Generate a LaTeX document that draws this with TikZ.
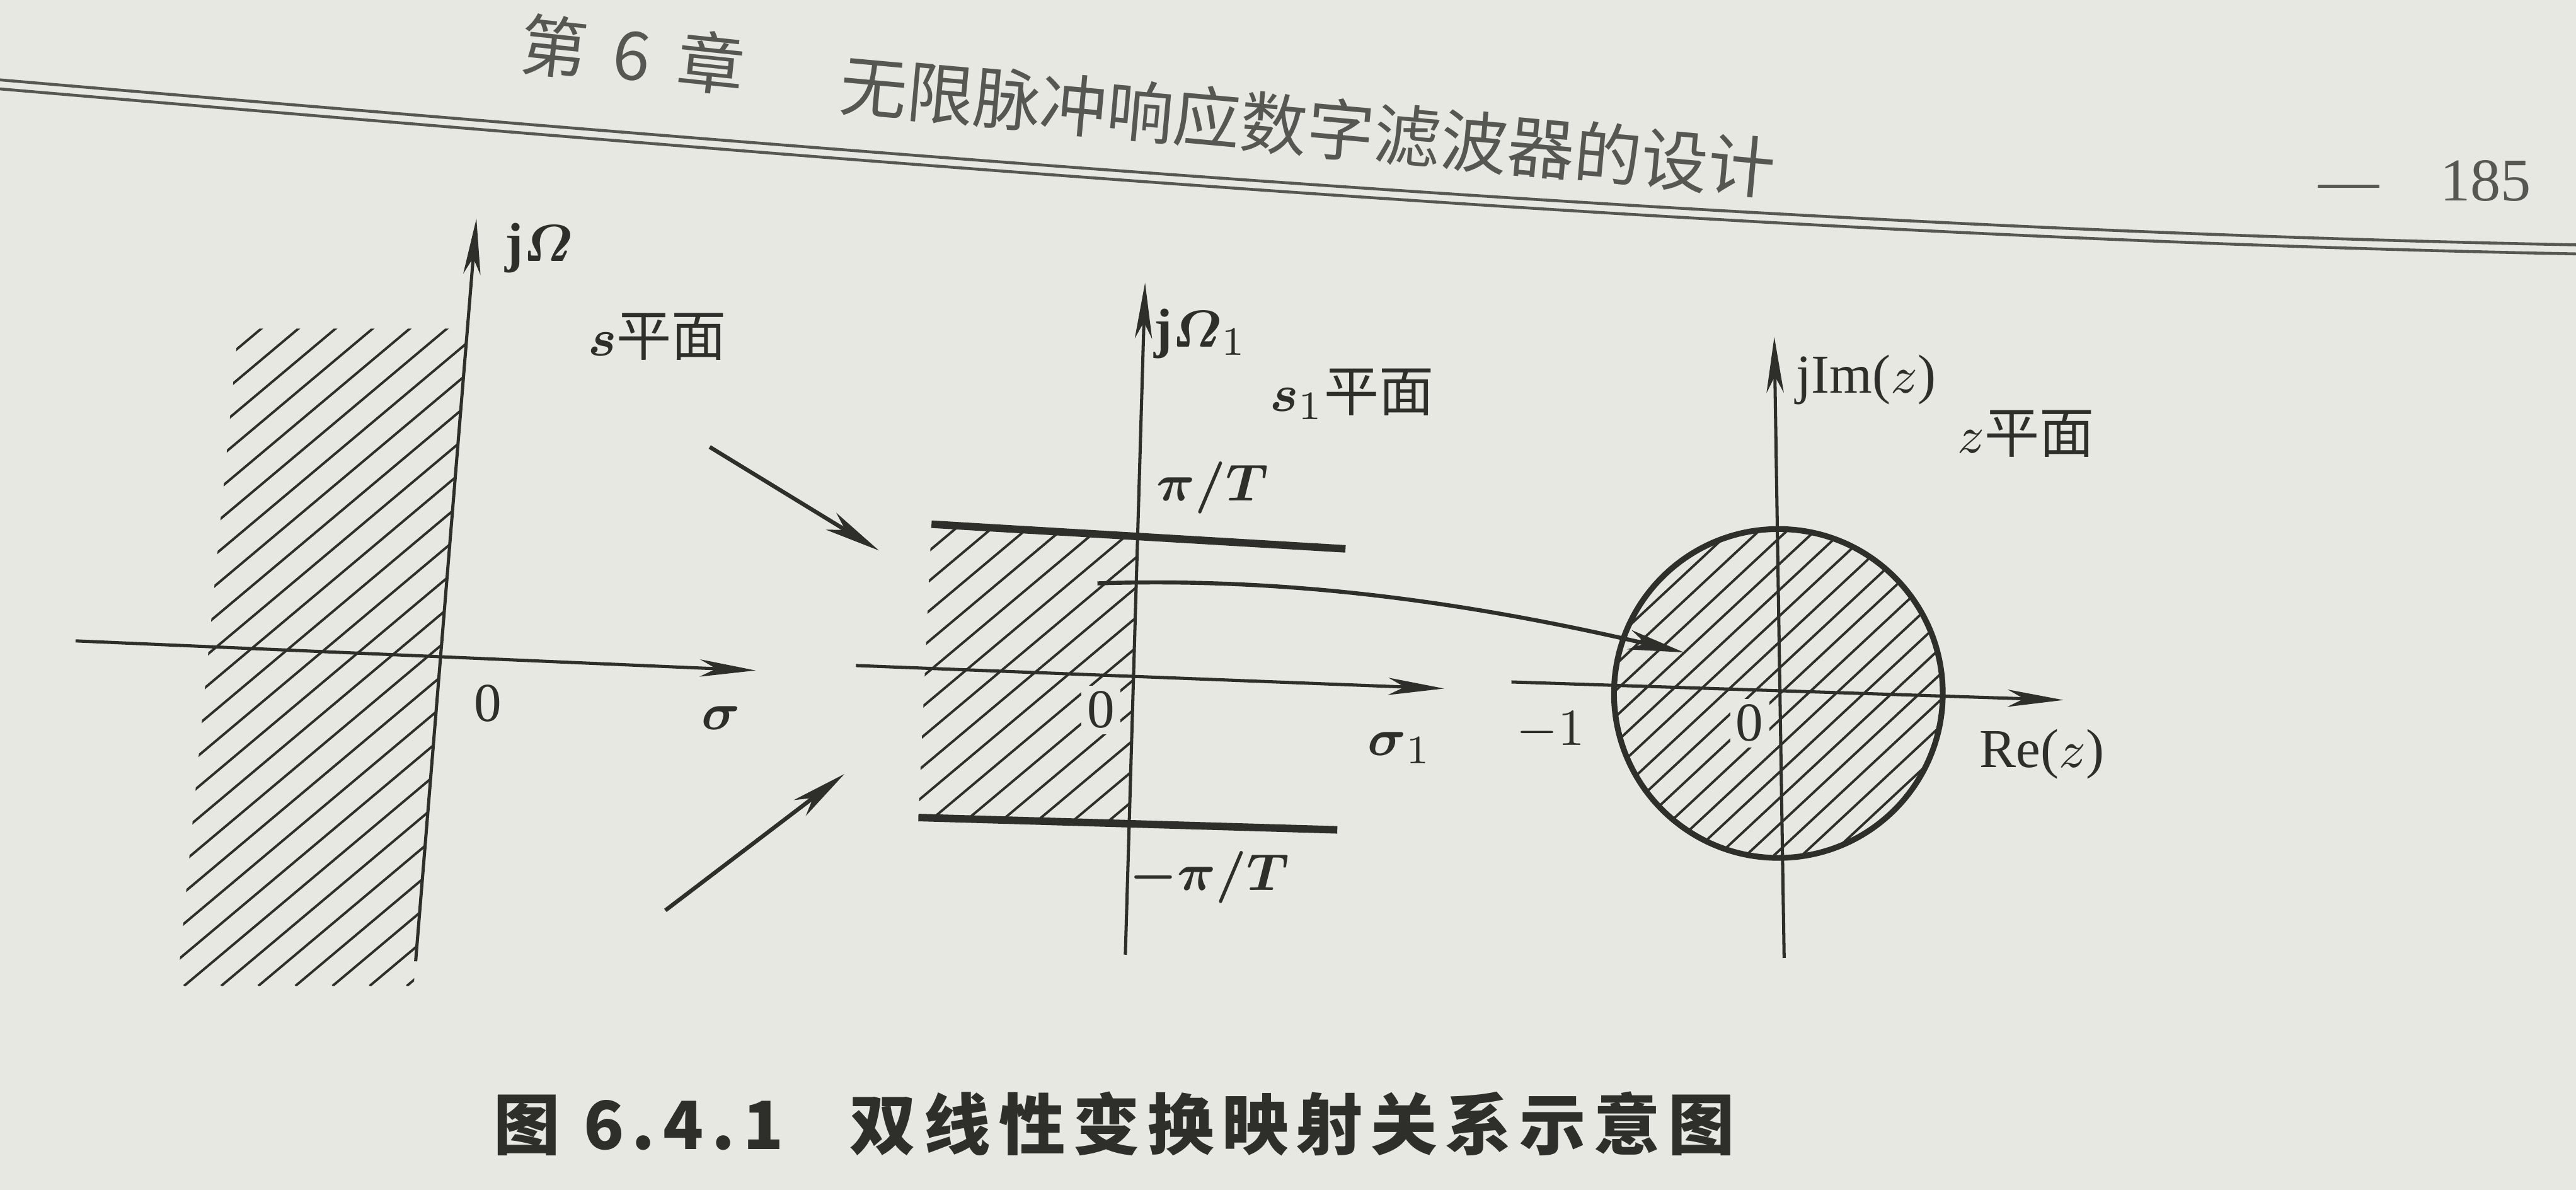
\documentclass[tikz,border=0pt]{standalone}
\usepackage{amsmath}
\usepackage{fontspec}
\setmainfont{Liberation Serif}
\newfontfamily\cjk{Noto Sans CJK SC}
\newfontfamily\capfont[LetterSpace=12]{Noto Sans CJK SC}
\usetikzlibrary{arrows.meta}
\definecolor{paper}{RGB}{232,232,227}
\definecolor{ink}{RGB}{46,46,42}
\definecolor{headink}{RGB}{86,86,82}
\tikzset{%
    axis/.style={draw=ink, line width=.55pt,
        -{Stealth[length=3.4mm,width=1.05mm,inset=1mm]}},
    maparrow/.style={draw=ink, line width=.7pt,
        -{Stealth[length=3.4mm,width=1.2mm,inset=1mm]}},
    hatch/.style={draw=ink, line width=.42pt},
    bound/.style={draw=ink, line width=1.3pt},
    lbl/.style={inner sep=0, text=ink, font=\fontsize{9.5}{11}\selectfont},
    plane/.style={inner sep=0, text=ink, font=\fontsize{9.5}{11}\selectfont\cjk},
    headtxt/.style={inner sep=0, text=headink, font=\fontsize{11.6}{13}\selectfont\cjk},
    captxt/.style={inner sep=0, text=ink, font=\fontsize{11.5}{13}\selectfont\capfont\bfseries}
}

\begin{document}
\begin{tikzpicture}[x=0.01cm, y=-0.01cm]
  \useasboundingbox (0,0) rectangle (1568,724);
  \fill[paper] (0,0) rectangle (1568,724);

  % running head
  \node (chap) [headtxt, rotate=-6] at (385,33) {第\hspace{.4em}6\hspace{.4em}章};
  \node (title) [headtxt, rotate=-5.2] at (796,77) {无限脉冲响应数字滤波器的设计};
  \node (page) [headtxt, font=\fontsize{10.5}{12}\selectfont] at (1476,110) {—\quad 185};
  \draw[headink, line width=.5pt] (0,48.6) .. controls (600,100) and (1100,140) .. (1568,149);
  \draw[headink, line width=.5pt] (0,54.1) .. controls (600,105.5) and (1100,145.5) .. (1568,154.5);

  % s plane
  \coordinate (sL) at (46,390);
  \coordinate (sR) at (460,408);
  \coordinate (sB) at (253,585);
  \coordinate (sT) at (290,133);
  \begin{scope}
    \clip (145,200) -- (284.5,200) -- (251.8,600) -- (108,600) -- cycle;
    \foreach \i in {0,...,26}
      \draw[hatch] (-340+22.6*\i,600) -- ++(480,-403);
  \end{scope}
  \draw[axis] (sL) -- (sR);
  \draw[axis] (sB) -- (sT);

  % s1 plane
  \coordinate (s1L) at (521,405);
  \coordinate (s1R) at (879,419);
  \coordinate (s1B) at (685,581);
  \coordinate (s1T) at (697,172);
  \coordinate (up1) at (567,319);
  \coordinate (up2) at (819,334);
  \coordinate (lo1) at (559,497.5);
  \coordinate (lo2) at (814,505);
  \begin{scope}
    \clip (up1) -- (692.5,326.4) -- (687,501) -- (lo1) -- cycle;
    \foreach \i in {0,...,16}
      \draw[hatch] (345+21.8*\i,502) -- ++(230,-193);
  \end{scope}
  \draw[bound] (up1) -- (up2);
  \draw[bound] (lo1) -- (lo2);
  \draw[axis] (s1L) -- (s1R);
  \draw[axis] (s1B) -- (s1T);

  % z plane
  \node (zdisk) [circle, draw=ink, line width=1pt, minimum size=2cm, inner sep=0] at (1082.5,422) {};
  \begin{scope}
    \clip (zdisk.center) circle [radius=1cm];
    \foreach \i in {0,...,26}
      \draw[hatch] (752+17*\i,525) -- ++(235,-219);
  \end{scope}
  \coordinate (zL) at (920,415);
  \coordinate (zR) at (1256,426);
  \coordinate (zB) at (1086,583);
  \coordinate (zT) at (1080,205);
  \draw[axis] (zL) -- (zR);
  \draw[axis] (zB) -- (zT);

  % mapping arrows
  \coordinate (a1S) at (432,272);
  \coordinate (a1E) at (535,335);
  \coordinate (a2S) at (405,554);
  \coordinate (a2E) at (514,471);
  \coordinate (mapS) at (668,355);
  \coordinate (mapE) at (1025,397);
  \draw[maparrow] (a1S) -- (a1E);
  \draw[maparrow] (a2S) -- (a2E);
  \draw[maparrow] (mapS) .. controls (790,351) and (900,368) .. (mapE);

  % labels
  \node (jw) [lbl] at (328,151) {$\mathbf{j}\boldsymbol{\varOmega}$};
  \node (splane) [plane] at (400,205) {$\boldsymbol{s}$平面};
  \node (o1) [lbl] at (297,428) {0};
  \node (sig) [lbl] at (439,437) {$\boldsymbol{\sigma}$};
  \node (jw1) [lbl] at (731,203) {$\mathbf{j}\boldsymbol{\varOmega}_1$};
  \node (s1plane) [plane] at (823,240) {$\boldsymbol{s}_1$平面};
  \node (piT) [lbl] at (738,297) {$\boldsymbol{\pi/T}$};
  \node (mpiT) [lbl] at (736,534) {$\boldsymbol{-\pi/T}$};
  \node (o2) [lbl, fill=paper, inner sep=1pt] at (670,432) {0};
  \node (sig1) [lbl] at (852,455) {$\boldsymbol{\sigma}_1$};
  \node (jIm) [lbl] at (1136,231) {jIm($z$)};
  \node (zplane) [plane] at (1233,264) {$z$平面};
  \node (o3) [lbl, fill=paper, inner sep=1pt] at (1065,440) {0};
  \node (m1) [lbl] at (944,445) {$-1$};
  \node (Re) [lbl] at (1243,459) {Re($z$)};

  % caption
  \node (cap) [captxt, anchor=west] at (300,684) {图 6.4.1\quad 双线性变换映射关系示意图};
\end{tikzpicture}
\end{document}
